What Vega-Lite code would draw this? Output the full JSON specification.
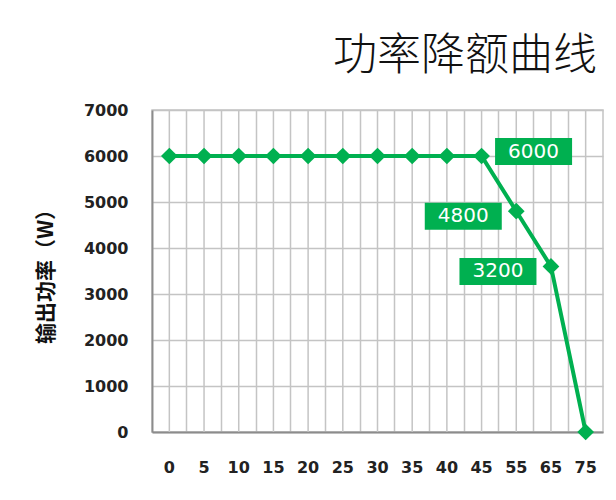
{
  "$schema": "https://vega.github.io/schema/vega-lite/v6.json",
  "width": 451,
  "height": 322,
  "autosize": {"type": "none"},
  "padding": {"left": 152, "top": 110, "right": 13, "bottom": 68},
  "background": "white",
  "title": {
    "text": "功率降额曲线",
    "anchor": "end",
    "frame": "group",
    "font": "Noto Sans CJK SC",
    "fontSize": 44,
    "fontWeight": 300,
    "color": "#111111",
    "offset": 23,
    "dx": -6
  },
  "config": {
    "view": {"stroke": "#c4c4c4", "strokeWidth": 1.5},
    "axis": {
      "labelFont": "DejaVu Sans",
      "labelFontSize": 16,
      "labelFontWeight": "bold",
      "labelColor": "#222222",
      "ticks": false,
      "gridColor": "#c4c4c4",
      "gridWidth": 1.5,
      "gridOpacity": 1,
      "domainColor": "#8c8c8c",
      "domainWidth": 1.8
    }
  },
  "data": {
    "values": [
      {"x": 0, "y": 6000},
      {"x": 5, "y": 6000},
      {"x": 10, "y": 6000},
      {"x": 15, "y": 6000},
      {"x": 20, "y": 6000},
      {"x": 25, "y": 6000},
      {"x": 30, "y": 6000},
      {"x": 35, "y": 6000},
      {"x": 40, "y": 6000},
      {"x": 45, "y": 6000, "label": "6000"},
      {"x": 55, "y": 4800, "label": "4800"},
      {"x": 65, "y": 3600, "label": "3200"},
      {"x": 75, "y": 0}
    ]
  },
  "encoding": {
    "x": {
      "field": "x",
      "type": "ordinal",
      "bandPosition": 0.5,
      "scale": {"type": "band", "paddingInner": 0, "paddingOuter": 0},
      "axis": {
        "title": null,
        "labelAngle": 0,
        "labelPadding": 27,
        "grid": true,
        "bandPosition": 0
      }
    },
    "y": {
      "field": "y",
      "type": "quantitative",
      "scale": {"domain": [0, 7000], "nice": false},
      "axis": {
        "values": [0, 1000, 2000, 3000, 4000, 5000, 6000, 7000],
        "format": "d",
        "labelPadding": 24,
        "title": "输出功率（W）",
        "titleFont": "Noto Sans CJK SC",
        "titleFontSize": 21,
        "titleFontWeight": "bold",
        "titleColor": "#111111",
        "titlePadding": 27
      }
    }
  },
  "layer": [
    {
      "mark": {"type": "rule", "color": "#c4c4c4", "strokeWidth": 1.5},
      "encoding": {"y": null}
    },
    {
      "mark": {"type": "line", "color": "#00b050", "strokeWidth": 4}
    },
    {
      "mark": {"type": "point", "shape": "diamond", "filled": true, "color": "#00b050", "size": 280, "opacity": 1}
    },
    {
      "transform": [{"filter": "datum.x == 45"}],
      "mark": {"type": "point", "shape": "M-1,-0.351H1V0.351H-1Z", "filled": true, "color": "#00b050", "size": 5929, "opacity": 1, "xOffset": 52, "yOffset": -4.5}
    },
    {
      "transform": [{"filter": "datum.x == 45"}],
      "mark": {"type": "text", "color": "white", "font": "DejaVu Sans", "fontSize": 20, "xOffset": 52, "yOffset": -4.5, "baseline": "middle", "align": "center"},
      "encoding": {"text": {"field": "label"}}
    },
    {
      "transform": [{"filter": "datum.x == 55 || datum.x == 65"}],
      "mark": {"type": "point", "shape": "M-1,-0.351H1V0.351H-1Z", "filled": true, "color": "#00b050", "size": 5929, "opacity": 1, "xOffset": -53, "yOffset": 5}
    },
    {
      "transform": [{"filter": "datum.x == 55 || datum.x == 65"}],
      "mark": {"type": "text", "color": "white", "font": "DejaVu Sans", "fontSize": 20, "xOffset": -53, "yOffset": 5, "baseline": "middle", "align": "center"},
      "encoding": {"text": {"field": "label"}}
    }
  ]
}
